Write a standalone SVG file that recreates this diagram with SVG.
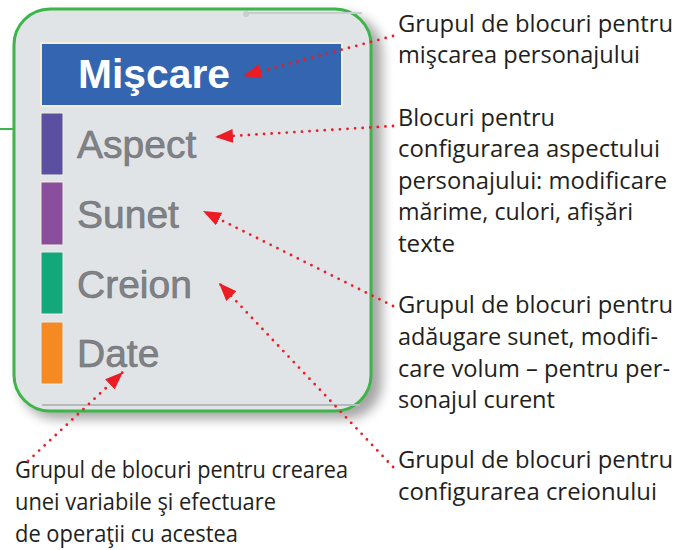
<svg xmlns="http://www.w3.org/2000/svg" width="695" height="550" viewBox="0 0 695 550">
<defs>
<filter id="sh" x="-10%" y="-10%" width="130%" height="130%"><feGaussianBlur stdDeviation="6"/></filter>
<marker id="ah" markerUnits="userSpaceOnUse" markerWidth="20" markerHeight="16" refX="18" refY="7" orient="auto"><path d="M0,0 L18,7 L0,14 Z" fill="#ed1c24"/></marker>
<style>
.lbl{font-family:"Liberation Sans",Arial,sans-serif;font-size:39px;fill:#808286;stroke:#6d6f73;stroke-width:0.6}
.note{font-family:"Open Sans","Noto Sans",sans-serif;font-size:24px;fill:#231f20}
.noteb{font-family:"Open Sans","Noto Sans",sans-serif;font-size:24px;fill:#231f20}
.con{fill:none;stroke:#ed1c24;stroke-width:2.8;stroke-linecap:round;stroke-dasharray:0 7.6;marker-end:url(#ah)}
</style>
</defs>
<rect width="695" height="550" fill="#ffffff"/>
<g id="palette">
<rect x="20" y="15" width="362" height="404" rx="36" fill="#000" opacity="0.35" filter="url(#sh)"/>
<rect x="14" y="9" width="357" height="402" rx="36" fill="#e1e4e7" stroke="#3db54a" stroke-width="3"/>
<line x1="0" y1="129" x2="14" y2="129" stroke="#3db54a" stroke-width="2"/>
<line x1="245" y1="13" x2="362" y2="13" stroke="#c9ccd0" stroke-width="2"/>
<circle cx="246" cy="14" r="3" fill="#c9ccd0"/>
<line x1="42" y1="405" x2="360" y2="405" stroke="#b7babd" stroke-width="2"/>
</g>
<g id="miscare">
<rect x="41" y="43" width="301" height="63" fill="#3465b0" stroke="#f3eedc" stroke-width="2"/>
<text x="78" y="88" font-family="Liberation Sans,Arial,sans-serif" font-weight="bold" font-size="41" fill="#ffffff" textLength="152" lengthAdjust="spacingAndGlyphs">Mişcare</text>
</g>
<g id="aspect">
<rect x="41" y="113" width="22" height="62" fill="#5a4fa0" stroke="#f3eedc" stroke-width="1"/>
<text class="lbl" x="77" y="158">Aspect</text>
</g>
<g id="sunet">
<rect x="41" y="182" width="22" height="63" fill="#8a4e9f" stroke="#f3eedc" stroke-width="1"/>
<text class="lbl" x="77" y="228">Sunet</text>
</g>
<g id="creion">
<rect x="41" y="252" width="22" height="62" fill="#13a87a" stroke="#f6e8ee" stroke-width="1"/>
<text class="lbl" x="77" y="298">Creion</text>
</g>
<g id="date">
<rect x="41" y="322" width="22" height="62" fill="#f48a21" stroke="#dff0f8" stroke-width="1"/>
<text class="lbl" x="77" y="367">Date</text>
</g>
<g id="note-miscare">
<text class="note" x="398" y="32" textLength="275" lengthAdjust="spacingAndGlyphs">Grupul de blocuri pentru</text>
<text class="note" x="398" y="63" textLength="242" lengthAdjust="spacingAndGlyphs">mişcarea personajului</text>
</g>
<g id="note-aspect">
<text class="note" x="398" y="126" textLength="157" lengthAdjust="spacingAndGlyphs">Blocuri pentru</text>
<text class="note" x="398" y="157" textLength="262" lengthAdjust="spacingAndGlyphs">configurarea aspectului</text>
<text class="note" x="398" y="189" textLength="269" lengthAdjust="spacingAndGlyphs">personajului: modificare</text>
<text class="note" x="398" y="220" textLength="235" lengthAdjust="spacingAndGlyphs">mărime, culori, afişări</text>
<text class="note" x="398" y="252" textLength="57" lengthAdjust="spacingAndGlyphs">texte</text>
</g>
<g id="note-sunet">
<text class="note" x="398" y="313" textLength="275" lengthAdjust="spacingAndGlyphs">Grupul de blocuri pentru</text>
<text class="note" x="398" y="345" textLength="260" lengthAdjust="spacingAndGlyphs">adăugare sunet, modifi-</text>
<text class="note" x="398" y="377" textLength="272" lengthAdjust="spacingAndGlyphs">care volum – pentru per-</text>
<text class="note" x="398" y="408" textLength="157" lengthAdjust="spacingAndGlyphs">sonajul curent</text>
</g>
<g id="note-creion">
<text class="note" x="398" y="468" textLength="275" lengthAdjust="spacingAndGlyphs">Grupul de blocuri pentru</text>
<text class="note" x="398" y="500" textLength="259" lengthAdjust="spacingAndGlyphs">configurarea creionului</text>
</g>
<g id="note-date">
<text class="noteb" x="15" y="478" textLength="333" lengthAdjust="spacingAndGlyphs">Grupul de blocuri pentru crearea</text>
<text class="noteb" x="15" y="510" textLength="261" lengthAdjust="spacingAndGlyphs">unei variabile şi efectuare</text>
<text class="noteb" x="15" y="542" textLength="223" lengthAdjust="spacingAndGlyphs">de operaţii cu acestea</text>
</g>
<g id="connectors">
<path class="con" d="M393,36 L243,76"/>
<path class="con" d="M393,126 L215,137"/>
<path class="con" d="M393,306 L203,211"/>
<path class="con" d="M393,467 L219,283"/>
<path class="con" d="M28,461 L123,372"/>
</g>
</svg>
